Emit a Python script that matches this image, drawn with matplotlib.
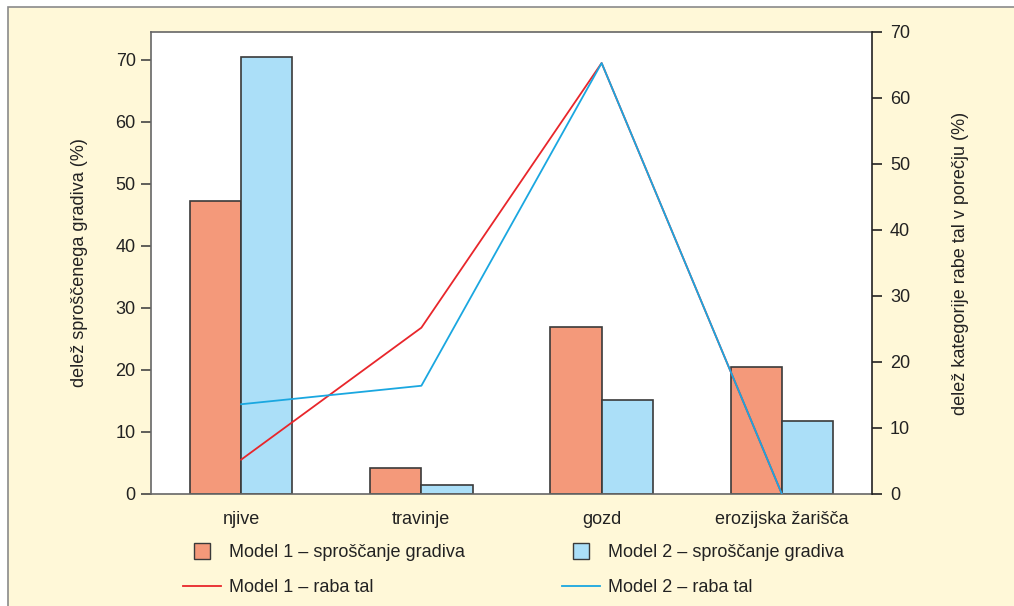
import matplotlib.pyplot as plt
from matplotlib.lines import Line2D
from matplotlib.patches import Rectangle
import numpy as np

plt.rcParams["font.family"] = ["Liberation Sans", "DejaVu Sans"]

categories = ["njive", "travinje", "gozd", "erozijska žarišča"]
model1_gradivo = [47.3, 4.2, 26.9, 20.5]
model2_gradivo = [70.5, 1.5, 15.2, 11.8]
model1_raba = [5.2, 25.2, 65.3, 0.0]
model2_raba = [13.6, 16.4, 65.3, 0.0]

cream = "#FFF8D8"
red_bar = "#F4997A"
blue_bar = "#ABDFF8"
red_line = "#E8262B"
blue_line = "#1AA7E0"
edge = "#3a3a3a"
fs = 13

fig = plt.figure(figsize=(10.14, 6.06), dpi=100)
# cream panel with grey frame on top and left only
fig.patches.append(Rectangle((8 / 1014, -0.05), 1.2, 1 - 7 / 606 + 0.05,
                             transform=fig.transFigure, facecolor=cream,
                             edgecolor="#8a8a8a", linewidth=1.2, zorder=-1))

ax = fig.add_axes([151 / 1014, 1 - 494 / 606, (872 - 151) / 1014, (494 - 32) / 606])
x = np.arange(len(categories))
w = 0.285
ax.bar(x - w / 2, model1_gradivo, w, color=red_bar, edgecolor=edge, linewidth=1.2, zorder=2)
ax.bar(x + w / 2, model2_gradivo, w, color=blue_bar, edgecolor=edge, linewidth=1.2, zorder=2)
ax.set_xlim(-0.5, 3.5)
ax.set_ylim(0, 74.5)
ax.set_yticks(range(0, 71, 10))
ax.set_xticks(x)
ax.set_xticklabels(categories)
ax.tick_params(axis="x", length=0, labelsize=fs, pad=12, colors="#222222")
ax.tick_params(axis="y", length=7, width=1.2, labelsize=fs, colors="#444444",
               labelcolor="#222222", pad=4)
ax.set_ylabel("delež sproščenega gradiva (%)", fontsize=fs, color="#222222", labelpad=20)
for s in ["left", "top", "bottom"]:
    ax.spines[s].set_color("#666666")
    ax.spines[s].set_linewidth(1.2)
ax.spines["right"].set_visible(False)

ax2 = ax.twinx()
ax2.plot(x, model1_raba, color=red_line, linewidth=1.3, zorder=3)
ax2.plot(x, model2_raba, color=blue_line, linewidth=1.3, zorder=3)
ax2.set_ylim(0, 70)
ax2.set_yticks(range(0, 71, 10))
ax2.tick_params(axis="y", length=7, width=1.2, labelsize=fs, colors="#222222", pad=6)
ax2.set_ylabel("delež kategorije rabe tal v porečju (%)", fontsize=fs, color="#222222", labelpad=30)
ax2.spines["right"].set_color("#222222")
ax2.spines["right"].set_linewidth(1.2)
for s in ["left", "top", "bottom"]:
    ax2.spines[s].set_visible(False)

handles = [
    Line2D([], [], marker="s", linestyle="none", markersize=11, markerfacecolor=red_bar, markeredgecolor=edge),
    Line2D([], [], color=red_line, linewidth=1.3),
    Line2D([], [], marker="s", linestyle="none", markersize=11, markerfacecolor=blue_bar, markeredgecolor=edge),
    Line2D([], [], color=blue_line, linewidth=1.3),
]
labels = ["Model 1 – sproščanje gradiva", "Model 1 – raba tal",
          "Model 2 – sproščanje gradiva", "Model 2 – raba tal"]
fig.legend(handles, labels, ncol=2, frameon=False, fontsize=fs,
           loc="upper left", bbox_to_anchor=(183 / 1014, 1 - 544 / 606),
           handlelength=2.1, handletextpad=0.45, columnspacing=5.4,
           labelspacing=1.0, borderpad=0, borderaxespad=0, labelcolor="#222222")

fig.savefig("out.png", dpi=100)
